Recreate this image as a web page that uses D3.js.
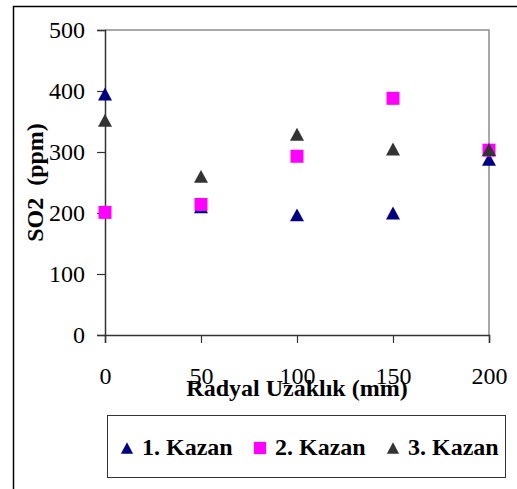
<!DOCTYPE html>
<html>
<head>
<meta charset="utf-8">
<script src="https://cdn.jsdelivr.net/npm/d3@7"></script>
<style>
  body { margin: 0; background: #fff; }
  text { font-family: "Liberation Serif", "Times New Roman", serif; }
</style>
</head>
<body>
<div id="chart"></div>
<script>
// data
var distances = [0, 50, 100, 150, 200];
var kazan1 = [395, 210, 197, 200, 288];
var kazan2 = [201, 214, 293, 388, 303];
var kazan3 = [352, 260, 329, 305, 304];
var seriesNames = ["1. Kazan", "2. Kazan", "3. Kazan"];
var yTicks = [0, 100, 200, 300, 400, 500];
var xTicks = [0, 50, 100, 150, 200];

var series = [
    { name: seriesNames[0], values: kazan1, shape: "triangle", color: "#000080" },
    { name: seriesNames[1], values: kazan2, shape: "square", color: "#ff00ff" },
    { name: seriesNames[2], values: kazan3, shape: "triangle", color: "#333333" }
];

var W = 517, H = 489;
var margin = { top: 30, right: 28, bottom: 154, left: 105 },
    width = W - margin.left - margin.right,
    height = H - margin.top - margin.bottom;

var svg = d3.select("#chart")
    .append("svg")
    .attr("width", W)
    .attr("height", H);

// outer frame (runs off the right and bottom edge)
svg.append("rect")
    .attr("x", 13.5).attr("y", 6.5)
    .attr("width", 540).attr("height", 520)
    .attr("fill", "none")
    .attr("stroke", "#000")
    .attr("stroke-width", 1.5);

var g = svg.append("g")
    .attr("transform", "translate(" + margin.left + "," + margin.top + ")");

var x = d3.scaleLinear().domain([0, 200]).range([0, width]);
var y = d3.scaleLinear().domain([0, 500]).range([height, 0]);

// top and right border of plot area
g.append("path")
    .attr("d", "M0,0H" + width + "V" + height)
    .attr("fill", "none")
    .attr("stroke", "#8c8c8c")
    .attr("stroke-width", 1.5);

// Y axis
var yAxis = g.append("g")
    .call(d3.axisLeft(y).tickValues(yTicks).tickSize(8).tickPadding(12).tickFormat(d3.format("d")));
yAxis.select(".domain").attr("stroke", "#333").attr("stroke-width", 1.5);
yAxis.selectAll(".tick line").attr("stroke", "#333").attr("stroke-width", 1.2);
yAxis.selectAll(".tick text")
    .style("font-family", "Liberation Serif")
    .style("font-size", "24px")
    .attr("fill", "#000");

// X axis
var xAxis = g.append("g")
    .attr("transform", "translate(0," + height + ")")
    .call(d3.axisBottom(x).tickValues(xTicks).tickSize(8).tickPadding(24).tickFormat(d3.format("d")));
xAxis.select(".domain").attr("stroke", "#333").attr("stroke-width", 1.5);
xAxis.selectAll(".tick line").attr("stroke", "#333").attr("stroke-width", 1.2);
xAxis.selectAll(".tick text")
    .style("font-family", "Liberation Serif")
    .style("font-size", "24px")
    .attr("fill", "#000");

// marker shapes, centred on their bounding box like the original
var triangle = {
    draw: function (ctx, size) {
        var s = Math.sqrt(size);
        ctx.moveTo(0, -s * 0.46);
        ctx.lineTo(s * 0.5, s * 0.46);
        ctx.lineTo(-s * 0.5, s * 0.46);
        ctx.closePath();
    }
};
var square = {
    draw: function (ctx, size) {
        var s = Math.sqrt(size) / 2;
        ctx.rect(-s, -s, s * 2, s * 2);
    }
};
function shapeOf(d) { return d.shape === "triangle" ? triangle : square; }

// points
series.forEach(function (s) {
    var sym = d3.symbol().type(shapeOf(s)).size(s.shape === "triangle" ? 196 : 169);
    g.selectAll(null)
        .data(s.values)
        .enter()
        .append("path")
        .attr("d", sym)
        .attr("transform", function (d, i) { return "translate(" + x(distances[i]) + "," + y(d) + ")"; })
        .attr("fill", s.color);
});

// axis titles
svg.append("text")
    .attr("x", 297)
    .attr("y", 396)
    .attr("text-anchor", "middle")
    .style("font-size", "24px")
    .style("font-weight", "bold")
    .text("Radyal Uzaklık (mm)");

svg.append("text")
    .attr("transform", "translate(43," + (margin.top + height / 2) + ") rotate(-90)")
    .attr("text-anchor", "middle")
    .style("font-size", "24px")
    .style("font-weight", "bold")
    .style("white-space", "pre")
    .text("SO2  (ppm)");

// legend
var legend = svg.append("g");
legend.append("rect")
    .attr("x", 107.5).attr("y", 415.5)
    .attr("width", 398).attr("height", 62)
    .attr("fill", "#fff")
    .attr("stroke", "#333")
    .attr("stroke-width", 1);

var lx = d3.scaleBand().domain(seriesNames).range([120, 519]);
series.forEach(function (s) {
    var sym = d3.symbol().type(shapeOf(s)).size(150);
    legend.append("path")
        .attr("d", sym)
        .attr("transform", "translate(" + (lx(s.name) + 7) + ",448)")
        .attr("fill", s.color);
    legend.append("text")
        .attr("x", lx(s.name) + 22)
        .attr("y", 455)
        .style("font-size", "24px")
        .style("font-weight", "bold")
        .text(s.name);
});
</script>
</body>
</html>
